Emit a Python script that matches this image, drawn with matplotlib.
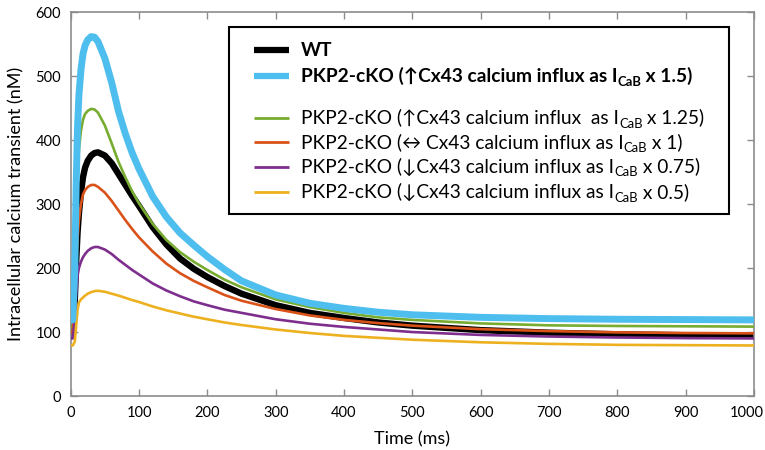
import matplotlib
matplotlib.use('Agg')
import matplotlib.pyplot as plt
from matplotlib.lines import Line2D
from matplotlib.patches import Rectangle
from matplotlib.transforms import ScaledTranslation

FONT = ['Lato', 'DejaVu Sans']
plt.rcParams['font.family'] = FONT

# time points (ms) and calcium transients (nM)
time_ms = [0, 3, 6, 8, 10, 12, 15, 18, 21, 25, 30, 35, 40, 50, 60, 70, 80, 90, 100,
           120, 140, 160, 180, 200, 225, 250, 300, 350, 400, 450, 500, 600, 700, 800, 900, 1000]
wt = [95, 95, 150, 210, 255, 285, 318, 342, 357, 368, 376, 380, 381, 376, 364, 347, 330, 313, 297,
      264, 237, 215, 199, 186, 172, 160, 142, 130, 122, 115, 110, 103, 99, 96.5, 95, 94]
ko_150 = [119, 119, 200, 330, 420, 470, 510, 535, 548, 557, 562, 561, 554, 528, 490, 445, 410, 380, 355,
          312, 280, 255, 236, 218, 198, 180, 158, 145, 137, 131, 127, 123, 121, 120, 119.5, 119]
ko_125 = [108, 108, 180, 280, 345, 385, 415, 432, 441, 446, 449, 448, 443, 423, 395, 366, 342, 320, 301,
          269, 244, 225, 210, 197, 182, 170, 151, 139, 130, 123, 119, 113.5, 110.5, 109.5, 109, 108.5]
ko_100 = [99, 99, 150, 205, 245, 275, 300, 315, 322, 327, 330, 330, 327, 318, 305, 290, 275, 261, 248,
          226, 207, 192, 180, 170, 158, 149, 136, 126, 119, 114, 110, 104.5, 101.5, 99.5, 98.5, 98]
ko_075 = [90, 90, 120, 160, 188, 200, 210, 217, 222, 227, 231, 233, 233, 229, 222, 213, 205, 197, 190,
          176, 165, 156, 148, 142, 135, 130, 120, 113, 108, 104, 100, 95.5, 93, 91.5, 90.5, 90]
ko_050 = [79, 79, 85, 110, 135, 146, 151, 154, 157, 160, 162.5, 164, 164.5, 163, 160, 157, 153.5, 150, 147,
          140, 134, 129, 124, 120, 115, 111, 104, 98.5, 94, 91, 88, 84, 81.5, 80, 79.5, 79]

BLUE, GREEN, ORANGE, PURPLE, YELLOW = '#4DBEEE', '#77AC30', '#D95319', '#7E2F8E', '#EDB120'
GRAY = '#8c8c8c'

W, H = 765, 450
fx = lambda px: px / W
fy = lambda py: 1 - py / H

fig = plt.figure(figsize=(7.65, 4.5), dpi=100)
ax = fig.add_axes([fx(70.7), fy(396), fx(754) - fx(70.7), fy(12.3) - fy(396)])

ax.plot(time_ms, wt, color='black', lw=4.6, solid_capstyle='butt', zorder=2)
ax.plot(time_ms, ko_125, color=GREEN, lw=1.9, zorder=3)
ax.plot(time_ms, ko_100, color=ORANGE, lw=1.9, zorder=3)
ax.plot(time_ms, ko_075, color=PURPLE, lw=1.9, zorder=3)
ax.plot(time_ms, ko_050, color=YELLOW, lw=1.9, zorder=3)
ax.plot(time_ms, ko_150, color=BLUE, lw=5.0, solid_capstyle='butt', zorder=4)

ax.set_xlim(0, 1000); ax.set_ylim(0, 600)
ax.set_xticks(range(0, 1001, 100)); ax.set_yticks(range(0, 601, 100))
ax.tick_params(direction='in', length=5, width=1, color=GRAY, labelsize=10.5,
               top=True, right=True, pad=7)
for s in ax.spines.values():
    s.set_color(GRAY); s.set_linewidth(1.2)
ax.set_xlabel('Time (ms)', fontsize=13, labelpad=8)
ax.set_ylabel('Intracellular calcium transient (nM)', fontsize=13, labelpad=8)
# keep the last x tick label inside the picture
last = ax.get_xticklabels()[-1]
last.set_transform(last.get_transform() + ScaledTranslation(-7 / 100, 0, fig.dpi_scale_trans))

# legend drawn by hand (uneven row spacing in the original)
fig.add_artist(Rectangle((fx(229), fy(214)), fx(729) - fx(229), fy(27.4) - fy(214),
                         transform=fig.transFigure, fill=False, ec='black', lw=1.5, zorder=10))
renderer = fig.canvas.get_renderer()
FS = 13.8

def entry(py, color, lw, parts, bold):
    fig.add_artist(Line2D([fx(254), fx(289)], [fy(py), fy(py)], color=color, lw=lw,
                          solid_capstyle='butt', transform=fig.transFigure))
    x = 301
    wgt = 'bold' if bold else 'normal'
    for i, p in enumerate(parts):
        sub = (i == 1)
        t = fig.text(fx(x), fy(py + 6 + (4 if sub else 0)), p, fontsize=FS * 0.68 if sub else FS,
                     fontweight=wgt, family=FONT, va='baseline', ha='left')
        x += t.get_window_extent(renderer).width

entry(49.6, 'black', 4.5, ['WT'], True)
entry(75.5, BLUE, 4.5, ['PKP2-cKO (\u2191Cx43 calcium influx as I', 'CaB', ' x 1.5)'], True)
entry(117.6, GREEN, 2.0, ['PKP2-cKO (\u2191Cx43 calcium influx  as I', 'CaB', ' x 1.25)'], False)
entry(142, ORANGE, 2.0, ['PKP2-cKO (\u2194 Cx43 calcium influx as I', 'CaB', ' x 1)'], False)
entry(166.5, PURPLE, 2.0, ['PKP2-cKO (\u2193Cx43 calcium influx as I', 'CaB', ' x 0.75)'], False)
entry(191.7, YELLOW, 2.0, ['PKP2-cKO (\u2193Cx43 calcium influx as I', 'CaB', ' x 0.5)'], False)

fig.savefig('out.png', dpi=100)
